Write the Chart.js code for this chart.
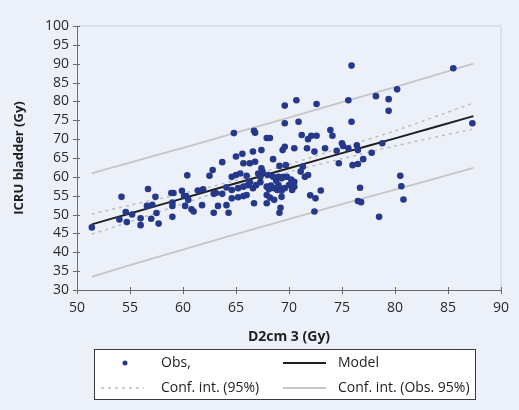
<!DOCTYPE html>
<html><head><meta charset="utf-8">
<script src="https://cdn.jsdelivr.net/npm/chart.js@4/dist/chart.umd.min.js"></script>
<style>html,body{margin:0;padding:0;background:#ecf0f8;}#wrap{width:519px;height:410px;position:relative;}</style>
</head><body><div id="wrap"><canvas id="c"></canvas></div>
<script>
// Observations: D2cm3 (Gy) vs ICRU bladder (Gy)
const obsX = [51.4,54.2,54.0,54.6,54.7,55.2,56.0,56.0,56.7,56.6,57.0,57.1,57.4,57.5,57.7,58.9,59.1,59.0,59.0,59.0,
  59.9,60.1,60.3,60.2,60.4,60.5,60.8,61.0,61.4,61.9,61.8,62.5,62.8,62.9,63.1,62.9,63.3,
  69.6,70.7,72.6,75.6,69.6,70.9,64.8,66.7,66.8,67.9,68.2,71.2,71.8,72.1,72.6,73.9,74.1,75.0,75.1,
  69.4,69.6,70.5,71.7,72.4,73.4,74.5,75.6,74.7,65.0,65.6,66.6,67.4,63.7,65.7,66.3,66.8,68.5,69.1,69.7,71.3,71.5,
  64.6,65.0,65.4,66.0,67.4,67.5,67.1,67.3,68.0,68.5,69.0,69.5,68.8,69.3,69.8,70.2,70.5,70.0,70.5,70.3,
  66.3,66.1,66.6,66.9,67.3,64.6,65.2,65.7,66.0,63.7,64.1,64.6,65.2,65.7,67.9,68.2,68.6,69.3,64.1,66.7,67.9,
  64.3,69.1,69.2,72.0,72.5,73.0,72.4,71.8,71.1,67.9,68.1,68.3,68.6,68.9,69.1,69.3,69.6,69.0,
  75.9,85.5,80.2,78.2,79.4,79.4,75.9,87.3,76.4,76.5,78.8,77.8,76.0,76.5,77.0,80.5,76.7,80.6,76.5,76.8,80.8,78.5];
const obsY = [46.6,54.7,48.7,50.7,48.0,50.0,49.0,47.2,56.8,52.3,48.9,52.6,54.7,50.4,47.6,55.7,55.7,53.2,52.3,49.4,
  56.3,54.9,54.9,52.3,60.4,53.9,51.4,50.8,56.4,56.7,52.5,60.3,61.8,55.5,55.7,50.5,52.3,
  78.9,80.3,79.3,80.3,74.2,74.6,71.6,72.2,71.7,70.3,70.3,71.1,70.0,70.9,70.9,72.4,70.9,68.9,68.2,
  67.1,68.0,67.6,67.6,66.7,67.6,66.9,67.6,63.6,65.4,66.1,66.7,67.1,63.9,63.6,63.6,64.0,64.7,62.9,63.1,62.7,60.0,
  60.0,60.5,60.9,60.3,62.3,61.4,60.9,60.0,60.5,60.0,60.0,60.0,59.0,59.6,60.0,59.3,58.7,57.8,57.4,56.5,
  58.6,57.8,57.0,57.8,58.6,56.5,57.0,57.4,55.2,55.5,57.2,54.3,54.6,54.9,55.2,54.5,53.9,54.7,52.5,53.0,53.0,
  50.5,50.5,51.8,55.1,54.3,56.4,50.8,60.5,61.4,57.4,56.7,57.7,57.0,56.5,57.0,56.3,57.0,57.8,
  89.5,88.8,83.2,81.4,80.6,77.5,74.6,74.2,68.4,67.1,68.9,66.4,63.1,63.4,64.7,60.3,57.1,57.5,53.6,53.3,54.0,49.4];
// Model and intervals, read at these x positions
const lineX    = [51.4, 55, 60, 65, 70, 75, 80, 87.4];
const modelY   = [47.4, 50.3, 54.3, 58.3, 62.3, 66.3, 70.2, 76.1];
const ciUpper  = [50.1, 52.5, 55.6, 59.1, 63.3, 67.8, 72.2, 79.6];
const ciLower  = [44.8, 48.1, 52.9, 57.4, 61.3, 64.8, 68.2, 72.7];
const obsUpper = [60.9, 63.8, 67.7, 71.7, 75.7, 79.8, 83.8, 90.0];
const obsLower = [33.5, 36.6, 40.7, 44.8, 48.8, 52.8, 56.6, 62.4];
const xTicks = [50,55,60,65,70,75,80,85,90];
const yTicks = [30,35,40,45,50,55,60,65,70,75,80,85,90,95,100];

const FONT = "'Open Sans', 'DejaVu Sans', sans-serif";
const BG = '#ecf0f8';
const DOT = '#26388a';
const pairs = (xs, ys) => xs.map((x, i) => ({x, y: ys[i]}));

const lineDs = (label, ys, color, width, dash) => ({
  label, data: pairs(lineX, ys), showLine: true, borderColor: color, backgroundColor: color,
  borderWidth: width, borderDash: dash, pointRadius: 0, pointHoverRadius: 0, tension: 0.3, fill: false
});

const datasets = [
  {label: 'Obs,', data: pairs(obsX, obsY), pointRadius: 3.3, pointBackgroundColor: DOT, pointBorderColor: DOT, pointBorderWidth: 0, showLine: false},
  lineDs('Model', modelY, '#1e1e1e', 2, []),
  lineDs('Conf. int. (95%)', ciUpper, '#bdbdbd', 1.5, [3, 4]),
  lineDs('Conf. int. (95%)', ciLower, '#bdbdbd', 1.5, [3, 4]),
  lineDs('Conf. int. (Obs. 95%)', obsUpper, '#c6c6c6', 1.8, []),
  lineDs('Conf. int. (Obs. 95%)', obsLower, '#c6c6c6', 1.8, [])
];

const bgPlugin = {
  id: 'bg',
  beforeDraw(chart) {
    const ctx = chart.ctx;
    ctx.save(); ctx.fillStyle = BG; ctx.fillRect(0, 0, chart.width, chart.height); ctx.restore();
  }
};

const framePlugin = {
  id: 'frame',
  beforeDatasetsDraw(chart) {
    const {ctx, chartArea: a} = chart;
    ctx.save();
    ctx.strokeStyle = '#d6dbe4'; ctx.lineWidth = 1.5;
    ctx.beginPath(); ctx.moveTo(a.left, a.top); ctx.lineTo(a.right, a.top); ctx.lineTo(a.right, a.bottom); ctx.stroke();
    ctx.restore();
  },
  afterDraw(chart) {
    const {ctx, chartArea: a, scales} = chart;
    ctx.save();
    ctx.strokeStyle = '#6b6b6b'; ctx.lineWidth = 1;
    ctx.beginPath();
    scales.x.ticks.forEach(t => {
      const px = Math.round(scales.x.getPixelForValue(t.value)) + 0.5;
      ctx.moveTo(px, a.bottom - 3); ctx.lineTo(px, a.bottom + 4);
    });
    scales.y.ticks.forEach(t => {
      const py = Math.round(scales.y.getPixelForValue(t.value)) + 0.5;
      ctx.moveTo(a.left - 4, py); ctx.lineTo(a.left + 3, py);
    });
    ctx.stroke();
    ctx.restore();
  }
};

const legendPlugin = {
  id: 'boxLegend',
  afterDraw(chart) {
    const ctx = chart.ctx;
    const ds = chart.data.datasets;
    const box = {x: 94.5, y: 349.5, w: 381, h: 50};
    ctx.save();
    ctx.fillStyle = '#ffffff';
    ctx.fillRect(box.x, box.y, box.w, box.h);
    ctx.strokeStyle = '#3a3a3a'; ctx.lineWidth = 1;
    ctx.strokeRect(box.x, box.y, box.w, box.h);
    const items = [
      {d: ds[0], sx: 101, tx: 161, y: 363, kind: 'dot'},
      {d: ds[1], sx: 283, tx: 338, y: 363, kind: 'line'},
      {d: ds[2], sx: 101, tx: 161, y: 388, kind: 'line'},
      {d: ds[4], sx: 283, tx: 338, y: 388, kind: 'line'}
    ];
    ctx.font = '14px ' + FONT;
    ctx.textBaseline = 'middle';
    ctx.textAlign = 'left';
    items.forEach(it => {
      if (it.kind === 'dot') {
        ctx.fillStyle = it.d.pointBackgroundColor;
        ctx.beginPath(); ctx.arc(125, it.y, 2.5, 0, Math.PI * 2); ctx.fill();
      } else {
        ctx.strokeStyle = it.d.borderColor; ctx.lineWidth = it.d.borderWidth;
        ctx.setLineDash(it.d.borderDash || []);
        ctx.beginPath(); ctx.moveTo(it.sx, it.y); ctx.lineTo(it.sx + 43, it.y); ctx.stroke();
        ctx.setLineDash([]);
      }
      ctx.fillStyle = '#222';
      ctx.fillText(it.d.label, it.tx, it.y);
    });
    ctx.restore();
  }
};

new Chart(document.getElementById('c'), {
  type: 'scatter',
  data: {datasets},
  options: {
    responsive: true, maintainAspectRatio: false, devicePixelRatio: 1, animation: false,
    layout: {padding: {left: 0, top: 26, right: 18, bottom: 64}},
    plugins: {legend: {display: false}, tooltip: {enabled: false}},
    scales: {
      x: {
        type: 'linear', min: 50, max: 90,
        afterBuildTicks: s => { s.ticks = xTicks.map(v => ({value: v})); },
        afterFit: s => { s.height = 56; },
        grid: {display: false, drawTicks: false},
        border: {display: true, color: '#6b6b6b', width: 1},
        ticks: {color: '#2a2a2a', font: {family: FONT, size: 14}, padding: 10, maxRotation: 0, autoSkip: false},
        title: {display: true, text: 'D2cm 3 (Gy)', color: '#1e1e1e', font: {family: FONT, size: 14, weight: 'bold'}, padding: {top: 0, bottom: 1}}
      },
      y: {
        type: 'linear', min: 30, max: 100,
        afterBuildTicks: s => { s.ticks = yTicks.map(v => ({value: v})); },
        afterFit: s => { s.width = 77; },
        grid: {display: false, drawTicks: false},
        border: {display: true, color: '#6b6b6b', width: 1},
        ticks: {color: '#2a2a2a', font: {family: FONT, size: 14}, padding: 8, autoSkip: false},
        title: {display: true, text: 'ICRU bladder (Gy)', color: '#1e1e1e', font: {family: FONT, size: 13, weight: 'bold'}, padding: {top: 11, bottom: 0}}
      }
    }
  },
  plugins: [bgPlugin, framePlugin, legendPlugin]
});
</script></body></html>
